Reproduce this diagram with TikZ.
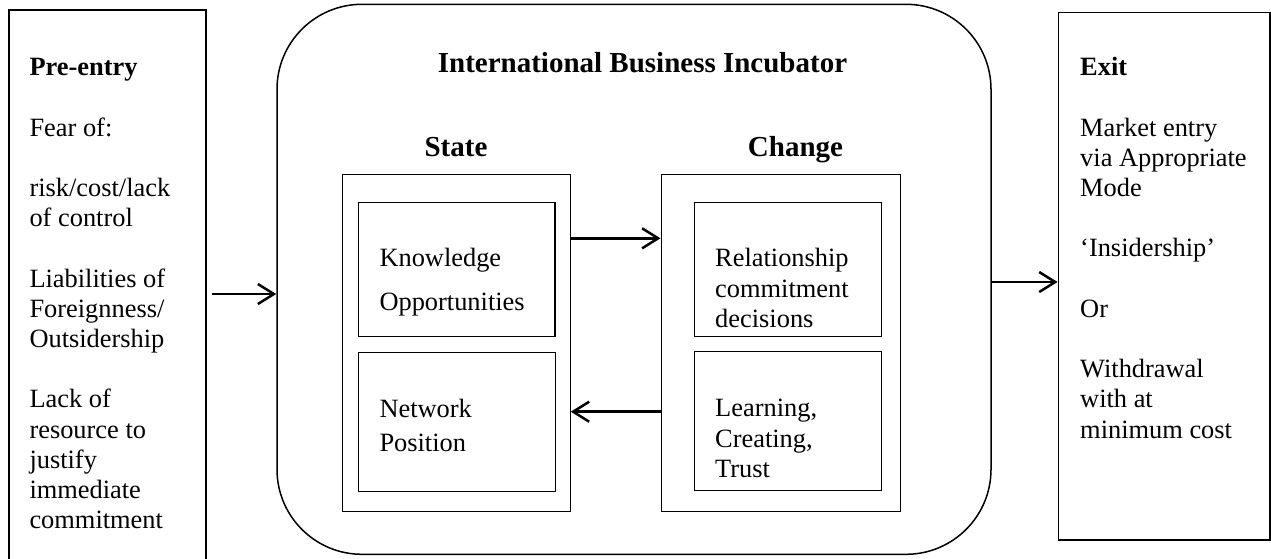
\documentclass[tikz,border=0pt]{standalone}
\usepackage{fontspec}
\setmainfont{Liberation Serif}
\usetikzlibrary{arrows.meta}
\newcommand{\bodyfont}{\fontsize{26.4}{30.2}\selectfont}
\newcommand{\headfont}{\fontsize{29}{33}\selectfont\bfseries}
\begin{document}
\begin{tikzpicture}[x=1pt,y=-1pt,
  box/.style={draw, rectangle, inner sep=0pt, line width=1.5pt},
  inbox/.style={draw, rectangle, inner sep=0pt, line width=1pt},
  body/.style={anchor=north west, inner sep=0pt, align=left, font=\bodyfont},
  head/.style={anchor=base, inner sep=0pt, font=\headfont},
  arr/.style={line width=2.5pt, -{Straight Barb[length=16pt,width=20pt]}}]
\useasboundingbox (0,0) rectangle (1271,558);

% outer boxes
\node[box, minimum width=197pt, minimum height=565pt] (pre) at (107.5,292.5) {};
\node[box, rounded corners=85pt, minimum width=714pt, minimum height=550pt] (ibi) at (634,279.3) {};
\node[box, minimum width=211.7pt, minimum height=527.5pt] (exit) at (1164.15,276.25) {};

% state / change boxes
\node[inbox, minimum width=227.8pt, minimum height=337.7pt] (state) at (456.4,342.85) {};
\node[inbox, line width=1.6pt, minimum width=196.7pt, minimum height=134.2pt] (know) at (456.65,269.4) {};
\node[inbox, minimum width=196.7pt, minimum height=139.2pt] (net) at (456.65,422.1) {};
\node[inbox, minimum width=239pt, minimum height=337.7pt] (change) at (780.5,342.85) {};
\node[inbox, minimum width=186.5pt, minimum height=134.4pt] (rel) at (787.75,269.5) {};
\node[inbox, minimum width=186.5pt, minimum height=138.3pt] (learn) at (787.75,420.85) {};

% headings
\node[head] (title) at (642.5,72) {International Business Incubator};
\node[head] (statelbl) at (456,156) {State};
\node[head] (changelbl) at (795.5,156) {Change};

% texts
\node[body] (pretext) at (29.3,54.26) {\strut\textbf{Pre-entry}\\[30.2pt]
Fear of:\\[30.2pt]
risk/cost/lack\\ of control\\[30.2pt]
Liabilities of\\ Foreignness/\\ Outsidership\\[30.2pt]
Lack of\\ resource to\\ justify\\ immediate\\ commitment};

\node[body] (exittext) at (1080,54.26) {\strut\textbf{Exit}\\[30.2pt]
Market entry\\ via Appropriate\\ Mode\\[30.2pt]
‘Insidership’\\[30.2pt]
Or\\[30.2pt]
Withdrawal\\ with at\\ minimum cost};

\node[body] (knowtext) at (379.3,244.86) {\strut Knowledge\\[13.8pt] Opportunities};
\node[body] (nettext) at (379.3,396.16) {\strut Network\\[4.2pt] Position};
\node[body] (reltext) at (715,245.56) {\strut Relationship\\ commitment\\ decisions};
\node[body] (learntext) at (715,395.56) {\strut Learning,\\ Creating,\\ Trust};

% arrows
\coordinate (ya) at (0,294);
\coordinate (yb) at (0,238.3);
\coordinate (yc) at (0,411.7);
\coordinate (yd) at (0,282);
\draw[arr, shorten <=5pt] (pre.east |- ya) -- (ibi.west |- ya);
\draw[arr] (state.east |- yb) -- (change.west |- yb);
\draw[arr] (change.west |- yc) -- (state.east |- yc);
\draw[arr] (ibi.east |- yd) -- (exit.west |- yd);
\end{tikzpicture}
\end{document}
